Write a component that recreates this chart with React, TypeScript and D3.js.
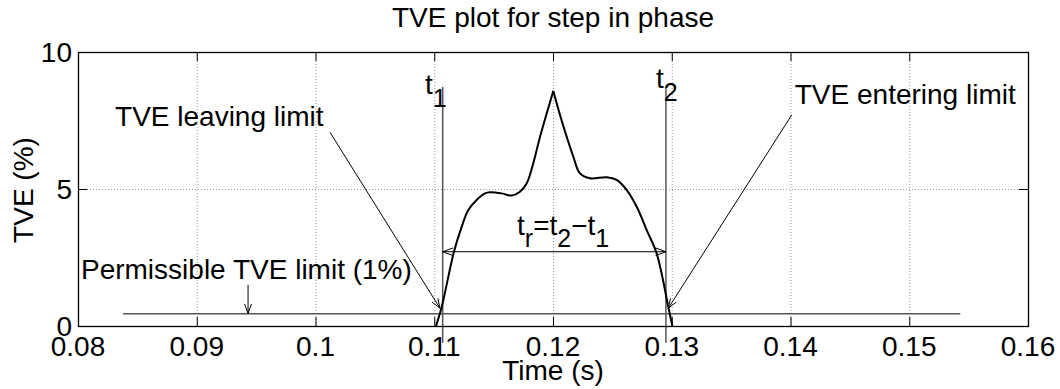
import React from "react";
import * as d3 from "d3";

// ---- data ----
const timeRise = [0.11015, 0.11063, 0.11166, 0.11231, 0.11287, 0.11357, 0.11427, 0.1147, 0.11568, 0.11652, 0.11722, 0.11779, 0.11834, 0.11891, 0.11947, 0.12003];
const tveRise = [0.0, 0.7, 2.71, 3.62, 4.23, 4.6, 4.84, 4.88, 4.84, 4.76, 4.9, 5.21, 5.94, 6.91, 7.76, 8.58];
const timeFall = [0.12003, 0.12059, 0.12115, 0.12171, 0.12227, 0.12312, 0.12452, 0.12536, 0.12621, 0.12705, 0.12789, 0.12873, 0.12971, 0.13005];
const tveFall = [8.58, 7.7, 6.91, 6.18, 5.57, 5.39, 5.43, 5.33, 4.96, 4.35, 3.5, 2.65, 0.7, 0.0];

const xTicks = [0.08, 0.09, 0.1, 0.11, 0.12, 0.13, 0.14, 0.15, 0.16];
const xTickLabels = ["0.08", "0.09", "0.1", "0.11", "0.12", "0.13", "0.14", "0.15", "0.16"];
const yTicks = [0, 5, 10];
const yTickLabels = ["0", "5", "10"];

const limitLine = { t0: 0.0838, t1: 0.1543, v: 0.45 };
const t1Time = 0.11071;
const t2Time = 0.12951;
const markerTop = 8.73;
const markerBottom = -0.61;
const spanLevel = 2.71;

const title = "TVE plot for step in phase";
const xLabel = "Time (s)";
const yLabel = "TVE (%)";

const W = 1060;
const H = 389;
const FONT = "'Liberation Sans', Arial, Helvetica, sans-serif";
const FS = 28;

export default function App() {
  const x = d3.scaleLinear().domain([0.08, 0.16]).range([78, 1028]);
  const y = d3.scaleLinear().domain([0, 10]).range([326, 52]);

  const mk = (ts: number[], vs: number[]) =>
    d3
      .line<number>()
      .x((_, i) => x(ts[i]))
      .y((_, i) => y(vs[i]))
      .curve(d3.curveCatmullRom.alpha(0.5))(ts.map((_, i) => i)) || "";

  const riseP = mk(timeRise, tveRise);
  const fallP = mk(timeFall, tveFall);

  const arrowHead = (x1: number, y1: number, x2: number, y2: number, len: number, ang: number) => {
    const a = Math.atan2(y2 - y1, x2 - x1);
    const p1 = [x2 - len * Math.cos(a - ang), y2 - len * Math.sin(a - ang)];
    const p2 = [x2 - len * Math.cos(a + ang), y2 - len * Math.sin(a + ang)];
    return `M${p1[0]},${p1[1]}L${x2},${y2}L${p2[0]},${p2[1]}`;
  };

  const arrow = (ta: number, va: number, tb: number, vb: number, len = 10, ang = 0.4) => {
    const x1 = x(ta), y1 = y(va), x2 = x(tb), y2 = y(vb);
    return (
      <g stroke="#000" strokeWidth={1} fill="none">
        <line x1={x1} y1={y1} x2={x2} y2={y2} />
        <path d={arrowHead(x1, y1, x2, y2, len, ang)} />
      </g>
    );
  };

  const [x0, x1] = x.range();
  const [yb, yt] = y.range();

  return (
    <svg width={W} height={H} style={{ position: "absolute", left: 0, top: 0, background: "#fff" }} fontFamily={FONT}>
      <rect width={W} height={H} fill="#fff" />
      {/* grid */}
      <g stroke="#999" strokeWidth={1} strokeDasharray="1,2">
        {xTicks.slice(1, -1).map((t) => (
          <line key={"gx" + t} x1={x(t) + 0.5} x2={x(t) + 0.5} y1={yt} y2={yb} />
        ))}
        {yTicks.slice(1, -1).map((v) => (
          <line key={"gy" + v} x1={x0} x2={x1} y1={y(v) + 0.5} y2={y(v) + 0.5} />
        ))}
      </g>
      {/* ticks */}
      <g stroke="#000" strokeWidth={1}>
        {xTicks.map((t) => (
          <g key={"tx" + t}>
            <line x1={x(t) + 0.5} x2={x(t) + 0.5} y1={yb} y2={yb - 9} />
            <line x1={x(t) + 0.5} x2={x(t) + 0.5} y1={yt} y2={yt + 9} />
          </g>
        ))}
        {yTicks.map((v) => (
          <g key={"ty" + v}>
            <line x1={x0} x2={x0 + 9} y1={y(v) + 0.5} y2={y(v) + 0.5} />
            <line x1={x1} x2={x1 - 9} y1={y(v) + 0.5} y2={y(v) + 0.5} />
          </g>
        ))}
      </g>
      {/* limit line */}
      <line x1={x(limitLine.t0)} x2={x(limitLine.t1)} y1={y(limitLine.v)} y2={y(limitLine.v)} stroke="#555" strokeWidth={1.5} />
      {/* marker lines */}
      <line x1={x(t1Time)} x2={x(t1Time)} y1={y(markerTop)} y2={y(markerBottom)} stroke="#555" strokeWidth={1.5} />
      <line x1={x(t2Time)} x2={x(t2Time)} y1={y(markerTop)} y2={y(markerBottom)} stroke="#555" strokeWidth={1.5} />
      {/* curve */}
      <path d={riseP} fill="none" stroke="#000" strokeWidth={2} />
      <path d={fallP} fill="none" stroke="#000" strokeWidth={2} />
      {/* box */}
      <rect x={x0 + 0.5} y={yt + 0.5} width={x1 - x0} height={yb - yt} fill="none" stroke="#000" strokeWidth={1.3} />
      {/* span double arrow */}
      <g stroke="#000" strokeWidth={1} fill="none">
        <line x1={x(t1Time)} x2={x(t2Time)} y1={y(spanLevel)} y2={y(spanLevel)} />
        <path d={arrowHead(x(t2Time), y(spanLevel), x(t1Time), y(spanLevel), 11, 0.35)} />
        <path d={arrowHead(x(t1Time), y(spanLevel), x(t2Time), y(spanLevel), 11, 0.35)} />
      </g>
      {/* annotation arrows */}
      {arrow(0.10122, 7.07, 0.11048, 0.65, 10, 0.35)}
      {arrow(0.1401, 7.7, 0.12971, 0.65, 10, 0.35)}
      {arrow(0.09432, 1.5, 0.09432, 0.46, 10, 0.35)}
      {/* tick labels */}
      <g fontSize={FS} fill="#000">
        {xTicks.map((t, i) => (
          <text key={"lx" + t} x={x(t)} y={356} textAnchor="middle">
            {xTickLabels[i]}
          </text>
        ))}
        {yTicks.map((v, i) => (
          <text key={"ly" + v} x={72} y={y(v) + 10} textAnchor="end">
            {yTickLabels[i]}
          </text>
        ))}
      </g>
      {/* titles */}
      <text x={553} y={27} textAnchor="middle" fontSize={FS}>{title}</text>
      <text x={553} y={380} textAnchor="middle" fontSize={FS}>{xLabel}</text>
      <text transform="translate(33,190) rotate(-90)" textAnchor="middle" fontSize={FS}>{yLabel}</text>
      {/* annotations */}
      <g fontSize={FS} fill="#000">
        <text x={x(0.08312)} y={y(7.3)}>TVE leaving limit</text>
        <text x={x(0.14036)} y={y(8.12)}>TVE entering limit</text>
        <text x={x(0.08025)} y={y(1.73)}>Permissible TVE limit (1%)</text>
        <text x={x(0.10922)} y={y(8.47)}>
          t<tspan dy={13} fontSize={25}>1</tspan>
        </text>
        <text x={x(0.12867)} y={y(8.69)}>
          t<tspan dy={13} fontSize={25}>2</tspan>
        </text>
        <text x={x(0.11697)} y={y(3.32)}>
          t<tspan dy={12} fontSize={25}>r</tspan>
          <tspan dy={-12}>=t</tspan>
          <tspan dy={12} fontSize={25}>2</tspan>
          <tspan dy={-12}>−t</tspan>
          <tspan dy={12} fontSize={25}>1</tspan>
        </text>
      </g>
    </svg>
  );
}
